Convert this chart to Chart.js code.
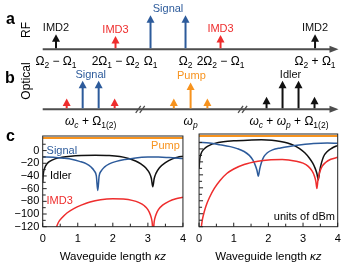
<!DOCTYPE html>
<html>
<head>
<meta charset="utf-8">
<script src="https://cdn.jsdelivr.net/npm/chart.js@4.4.1/dist/chart.umd.min.js"></script>
<style>
  html, body { margin: 0; padding: 0; background: #fff; }
  #fig { position: relative; width: 350px; height: 275px; overflow: hidden; }
  #fig canvas { position: absolute; }
</style>
</head>
<body>
<div id="fig">
  <canvas id="rfChart" width="350" height="72" style="left:0;top:0"></canvas>
  <canvas id="optChart" width="350" height="76" style="left:0;top:56px"></canvas>
  <canvas id="leftChart" width="192" height="149" style="left:0;top:126px"></canvas>
  <canvas id="rightChart" width="160" height="149" style="left:190px;top:126px"></canvas>
</div>
<script>
// --- panel a: RF spectrum (frequency in units of Omega2 - Omega1)
const rfKinds = ['IMD2', 'IMD3', 'Signal', 'Signal', 'IMD3', 'IMD2'];
const rfFreq = [1, 2.7, 3.7, 4.7, 5.7, 8.4];
const rfLevel = [0.44, 0.39, 1, 1, 0.42, 0.44];
const rfTickLabels = ['Ω_2 − Ω_1', '2Ω_1 − Ω_2', 'Ω_1', 'Ω_2', '2Ω_2 − Ω_1', 'Ω_2 + Ω_1'];
const rfTags = ['IMD2', 'IMD3', 'Signal', 'IMD3', 'IMD2'];
const rfTagFreq = [1, 2.7, 4.2, 5.7, 8.4];
const rfTagLevel = [0.44, 0.39, 1, 0.42, 0.44];

// --- panel b: optical spectrum (arbitrary units, axis broken twice)
const optKinds = ['IMD3', 'Signal', 'Signal', 'IMD3', 'Pump', 'Pump', 'Pump', 'Idler', 'Idler', 'Idler', 'Idler'];
const optFreq = [1.5, 2.5, 3.5, 4.5, 8.2, 9.25, 10.3, 14, 15, 16, 17];
const optLevel = [0.38, 1, 1, 0.38, 0.38, 0.94, 0.38, 0.44, 1, 1, 0.44];
const optBreaks = [6.1, 12.5];
const optTickLabels = ['ω_c + Ω_{1(2)}', 'ω_p', 'ω_c + ω_p + Ω_{1(2)}'];
const optTickFreq = [3, 9.25, 15.4];
const optTags = ['Signal', 'Pump', 'Idler'];
const optTagFreq = [3, 9.3, 15.5];
const optTagLevel = [1, 0.94, 1];

// --- panel c, left plot (dBm vs kappa z)
const kzSignalL = [0, 0.3, 0.6, 0.85, 1.05, 1.25, 1.38, 1.47, 1.53, 1.57, 1.61, 1.67, 1.76, 1.9, 2.1, 2.35, 2.65, 3.0, 3.3, 3.6, 4.0];
const dbmSignalL = [-10, -10.5, -12, -14, -17, -21, -26, -32, -40, -63, -40, -32, -26, -21, -17, -14, -11.5, -10.3, -10.2, -11, -12.5];
const kzIdlerL = [0, 0.02, 0.06, 0.12, 0.2, 0.35, 0.55, 0.8, 1.1, 1.5, 1.9, 2.2, 2.45, 2.65, 2.8, 2.95, 3.05, 3.1, 3.14, 3.18, 3.23, 3.33, 3.5, 3.7, 3.85, 4.0];
const dbmIdlerL = [-50, -36, -27, -21, -17, -13, -10.5, -8.8, -7.8, -7.3, -7.8, -9.5, -12.5, -16.5, -21, -28, -36, -44, -57, -44, -36, -27, -19, -13, -10.5, -9];
const kzImd3L = [0.38, 0.45, 0.55, 0.7, 0.9, 1.1, 1.35, 1.65, 2.0, 2.3, 2.55, 2.75, 2.9, 3.0, 3.07, 3.12, 3.15, 3.18, 3.23, 3.3, 3.42, 3.6, 3.8, 4.0];
const dbmImd3L = [-122, -113, -106, -98, -91, -86, -81, -77.5, -76, -76.5, -78.5, -82, -87, -93, -101, -112, -130, -112, -101, -93, -86, -80, -76, -73.5];
const kzPumpL = [0, 4];
const dbmPumpL = [20, 20];

// --- panel c, right plot
const kzSignalR = [0, 0.3, 0.6, 0.9, 1.1, 1.3, 1.45, 1.55, 1.62, 1.67, 1.71, 1.75, 1.8, 1.87, 1.97, 2.12, 2.35, 2.6, 2.95, 3.3, 3.7, 4.0];
const dbmSignalR = [10, 9, 6.5, 3.5, 0.5, -4, -10, -17, -25, -33, -42, -31, -21, -12, -6, -1.5, 1.5, 3.8, 6.3, 8.2, 9, 8.7];
const kzIdlerR = [0, 0.02, 0.06, 0.12, 0.2, 0.3, 0.45, 0.7, 1.0, 1.4, 1.8, 2.1, 2.35, 2.55, 2.75, 2.9, 3.05, 3.18, 3.28, 3.35, 3.4, 3.44, 3.48, 3.53, 3.59, 3.7, 3.83, 4.0];
const dbmIdlerR = [-30, -16, -7, -1.5, 2.5, 5.5, 8.5, 11, 12.5, 13.5, 14, 13.5, 11.5, 9, 5, 0.5, -6, -14, -22, -30, -38, -48, -34, -22, -12, -4, 1, 5.5];
const kzImd3R = [0.06, 0.1, 0.15, 0.2, 0.3, 0.44, 0.6, 0.8, 1.0, 1.3, 1.7, 2.0, 2.4, 2.8, 3.0, 3.15, 3.26, 3.33, 3.37, 3.4, 3.43, 3.48, 3.55, 3.65, 3.8, 4.0];
const dbmImd3R = [-122, -108, -97, -88, -75, -61, -49, -38, -31, -24, -19, -17, -16.5, -19, -22, -27, -34, -42, -50, -61, -48, -36, -27, -21, -16, -13];
const kzPumpR = [0, 4];
const dbmPumpR = [20, 20];

const FONT = "'Liberation Sans', Arial, Helvetica, sans-serif";
Chart.defaults.font.family = FONT;
Chart.defaults.font.size = 11;
Chart.defaults.color = '#000';

const colors = {
  Signal: '#2d5b9b',
  IMD3: '#ee2d2d',
  IMD2: '#111111',
  Idler: '#111111',
  Pump: '#f7931e'
};

// split "Ω_2 − Ω_1" into normal / subscript pieces
function parseRich(str) {
  const out = [];
  let i = 0;
  while (i < str.length) {
    const ch = str[i];
    if (ch === '_') {
      let t;
      if (str[i + 1] === '{') {
        const j = str.indexOf('}', i);
        t = str.slice(i + 2, j);
        i = j + 1;
      } else {
        t = str[i + 1];
        i += 2;
      }
      out.push({ t, sub: true, it: /^[a-z]+$/.test(t) });
    } else {
      out.push({ t: ch, sub: false, it: ch === 'ω' });
      i++;
    }
  }
  return out;
}

function drawRich(ctx, str, cx, cy) {
  const parts = parseRich(str);
  const fontOf = p => (p.it ? 'italic ' : '') + (p.sub ? '8.5px ' : '12px ') + FONT;
  let w = 0;
  parts.forEach(p => {
    ctx.font = fontOf(p);
    p.w = ctx.measureText(p.t).width;
    w += p.w;
  });
  let px = cx - w / 2;
  ctx.textAlign = 'left';
  ctx.textBaseline = 'middle';
  parts.forEach(p => {
    ctx.font = fontOf(p);
    ctx.fillText(p.t, px, cy + (p.sub ? 4 : 0));
    px += p.w;
  });
}

// arrows, axis, labels for panels a and b
const spectrumPlugin = {
  id: 'spectrum',
  afterDatasetsDraw(chart, args, opts) {
    const { ctx, chartArea: a, scales: { x, y } } = chart;
    const y0 = y.getPixelForValue(0);
    ctx.save();

    ctx.strokeStyle = '#4d4d4d';
    ctx.fillStyle = '#4d4d4d';
    ctx.lineWidth = 2;
    ctx.beginPath();
    ctx.moveTo(a.left, y0);
    ctx.lineTo(a.right - 6, y0);
    ctx.stroke();
    ctx.beginPath();
    ctx.moveTo(a.right, y0);
    ctx.lineTo(a.right - 9, y0 - 3.5);
    ctx.lineTo(a.right - 9, y0 + 3.5);
    ctx.closePath();
    ctx.fill();

    (opts.breaks || []).forEach(b => {
      const bx = x.getPixelForValue(b);
      ctx.lineWidth = 1.3;
      [-2, 2].forEach(d => {
        ctx.beginPath();
        ctx.moveTo(bx + d - 2.5, y0 + 3.5);
        ctx.lineTo(bx + d + 2.5, y0 - 3.5);
        ctx.stroke();
      });
    });

    chart.data.datasets.forEach((ds, i) => {
      chart.getDatasetMeta(i).data.forEach(el => {
        ctx.strokeStyle = ds.borderColor;
        ctx.fillStyle = ds.borderColor;
        ctx.lineWidth = 2;
        ctx.beginPath();
        ctx.moveTo(el.x, y0 - 1);
        ctx.lineTo(el.x, el.y + 5);
        ctx.stroke();
        ctx.beginPath();
        ctx.moveTo(el.x, el.y);
        ctx.lineTo(el.x - 4, el.y + 7.5);
        ctx.lineTo(el.x + 4, el.y + 7.5);
        ctx.closePath();
        ctx.fill();
      });
    });

    ctx.font = '11px ' + FONT;
    ctx.textAlign = 'center';
    ctx.textBaseline = 'middle';
    opts.tags.forEach((t, i) => {
      ctx.fillStyle = colors[t];
      ctx.fillText(t, x.getPixelForValue(opts.tagAt[i]), y.getPixelForValue(opts.tagLevel[i]) - 6);
    });

    ctx.fillStyle = '#000';
    opts.ticks.forEach((t, i) => drawRich(ctx, t, x.getPixelForValue(opts.tickAt[i]), y0 + 12.4));

    ctx.font = 'bold 16px ' + FONT;
    ctx.textAlign = 'center';
    ctx.fillText(opts.letter, opts.letterAt[0], opts.letterAt[1]);

    ctx.font = '12px ' + FONT;
    ctx.translate(opts.sideAt[0], opts.sideAt[1]);
    ctx.rotate(-Math.PI / 2);
    ctx.fillText(opts.side, 0, 0);
    ctx.restore();
  }
};

function spectrumChart(id, kinds, freq, level, range, pad, extra) {
  const groups = [...new Set(kinds)];
  return new Chart(document.getElementById(id), {
    type: 'scatter',
    data: {
      datasets: groups.map(g => ({
        label: g,
        borderColor: colors[g],
        pointRadius: 0,
        data: freq.map((f, i) => ({ x: f, y: level[i], k: kinds[i] })).filter(d => d.k === g)
      }))
    },
    options: {
      responsive: false,
      animation: false,
      devicePixelRatio: 1,
      layout: { padding: pad },
      plugins: { legend: { display: false }, tooltip: { enabled: false }, spectrum: extra },
      scales: {
        x: { type: 'linear', display: false, min: range[0], max: range[1] },
        y: { type: 'linear', display: false, min: 0, max: 1 }
      }
    },
    plugins: [spectrumPlugin]
  });
}

spectrumChart('rfChart', rfKinds, rfFreq, rfLevel, [0.62, 9.07],
  { left: 42.7, right: 11.5, top: 15.3, bottom: 22.7 },
  { tags: rfTags, tagAt: rfTagFreq, tagLevel: rfTagLevel, ticks: rfTickLabels, tickAt: rfFreq,
    letter: 'a', letterAt: [10.5, 20], side: 'RF', sideAt: [27, 30] });

spectrumChart('optChart', optKinds, optFreq, optLevel, [0, 18.5],
  { left: 42.7, right: 11.5, top: 24.7, bottom: 22.7 },
  { breaks: optBreaks, tags: optTags, tagAt: optTagFreq, tagLevel: optTagLevel, ticks: optTickLabels, tickAt: optTickFreq,
    letter: 'b', letterAt: [10, 23], side: 'Optical', sideAt: [27, 25] });

// frame + inward ticks for panel c
const frameTicks = {
  id: 'frameTicks',
  afterDraw(chart) {
    const { ctx, chartArea: a, scales: { x, y } } = chart;
    ctx.save();
    ctx.strokeStyle = '#222';
    ctx.lineWidth = 1;
    ctx.strokeRect(a.left, a.top, a.right - a.left, a.bottom - a.top);
    ctx.beginPath();
    x.ticks.forEach(t => {
      const px = x.getPixelForValue(t.value);
      const len = Number.isInteger(t.value) ? 4 : 3;
      ctx.moveTo(px, a.bottom);
      ctx.lineTo(px, a.bottom - len);
    });
    y.ticks.forEach(t => {
      if (t.value % 10 !== 0) return;
      const py = y.getPixelForValue(t.value);
      const len = t.value % 20 === 0 ? 4 : 3;
      ctx.moveTo(a.left, py);
      ctx.lineTo(a.left + len, py);
    });
    ctx.stroke();
    ctx.restore();
  }
};

// in-plot labels, panel letter and the x title with italic κz
const curveLabels = {
  id: 'curveLabels',
  afterDatasetsDraw(chart, args, opts) {
    const { ctx, chartArea: a, scales: { x, y } } = chart;
    ctx.save();
    ctx.font = '11px ' + FONT;
    ctx.textBaseline = 'middle';
    (opts.items || []).forEach(it => {
      ctx.fillStyle = it.color;
      ctx.textAlign = it.align;
      ctx.fillText(it.text, x.getPixelForValue(it.x), y.getPixelForValue(it.y));
    });
    if (opts.letter) {
      ctx.font = 'bold 16px ' + FONT;
      ctx.fillStyle = '#000';
      ctx.textAlign = 'center';
      ctx.fillText(opts.letter, 10.5, 11);
    }
    const plain = 'Waveguide length ';
    const ital = 'κz';
    ctx.font = '11.5px ' + FONT;
    const w1 = ctx.measureText(plain).width;
    ctx.font = 'italic 11.5px ' + FONT;
    const w2 = ctx.measureText(ital).width;
    const x0 = (a.left + a.right) / 2 - (w1 + w2) / 2;
    const ty = a.bottom + 30;
    ctx.fillStyle = '#000';
    ctx.textAlign = 'left';
    ctx.font = '11.5px ' + FONT;
    ctx.fillText(plain, x0, ty);
    ctx.font = 'italic 11.5px ' + FONT;
    ctx.fillText(ital, x0 + w1, ty);
    ctx.restore();
  }
};

function curveChart(id, series, cfg) {
  return new Chart(document.getElementById(id), {
    type: 'scatter',
    data: {
      datasets: series.map(s => ({
        label: s.name,
        data: s.kz.map((k, i) => ({ x: k, y: s.dbm[i] })),
        showLine: true,
        pointRadius: 0,
        borderWidth: s.name === 'Pump' ? 2 : 1.5,
        borderColor: colors[s.name],
        cubicInterpolationMode: 'monotone'
      }))
    },
    options: {
      responsive: false,
      animation: false,
      devicePixelRatio: 1,
      layout: { padding: cfg.padding },
      plugins: {
        legend: { display: false },
        tooltip: { enabled: false },
        curveLabels: { items: cfg.labels, letter: cfg.letter }
      },
      scales: {
        x: {
          type: 'linear', min: 0, max: 4,
          grid: { display: false, drawTicks: false },
          border: { display: false },
          ticks: { stepSize: 0.5, autoSkip: false, maxRotation: 0, padding: 6,
            callback: v => Number.isInteger(v) ? String(v) : '' },
          afterFit: s => { s.height = 48.3; }
        },
        y: {
          type: 'linear', min: -120, max: 23,
          grid: { display: false, drawTicks: false },
          border: { display: false },
          ticks: { display: cfg.yLabels, stepSize: 10, autoSkip: false, padding: 3.4,
            callback: v => v % 20 === 0 ? String(v).replace('-', '\u2212') : '' },
          afterFit: s => { s.width = cfg.yWidth; }
        }
      }
    },
    plugins: [curveLabels, frameTicks]
  });
}

curveChart('leftChart', [
  { name: 'Pump', kz: kzPumpL, dbm: dbmPumpL },
  { name: 'IMD3', kz: kzImd3L, dbm: dbmImd3L },
  { name: 'Signal', kz: kzSignalL, dbm: dbmSignalL },
  { name: 'Idler', kz: kzIdlerL, dbm: dbmIdlerL }
], {
  padding: { left: 0, right: 8.7, top: 8, bottom: 0 },
  yWidth: 42.7,
  yLabels: true,
  letter: 'c',
  labels: [
    { text: 'Signal', x: 0.11, y: 0, color: colors.Signal, align: 'left' },
    { text: 'Pump', x: 3.91, y: 7.7, color: colors.Pump, align: 'right' },
    { text: 'Idler', x: 0.21, y: -40, color: '#000', align: 'left' },
    { text: 'IMD3', x: 0.11, y: -79, color: colors.IMD3, align: 'left' }
  ]
});

curveChart('rightChart', [
  { name: 'Pump', kz: kzPumpR, dbm: dbmPumpR },
  { name: 'IMD3', kz: kzImd3R, dbm: dbmImd3R },
  { name: 'Signal', kz: kzSignalR, dbm: dbmSignalR },
  { name: 'Idler', kz: kzIdlerR, dbm: dbmIdlerR }
], {
  padding: { left: 0, right: 12.3, top: 8, bottom: 0 },
  yWidth: 7.7,
  yLabels: false,
  labels: [
    { text: 'units of dBm', x: 3.92, y: -105, color: '#000', align: 'right' }
  ]
});
</script>
</body>
</html>
